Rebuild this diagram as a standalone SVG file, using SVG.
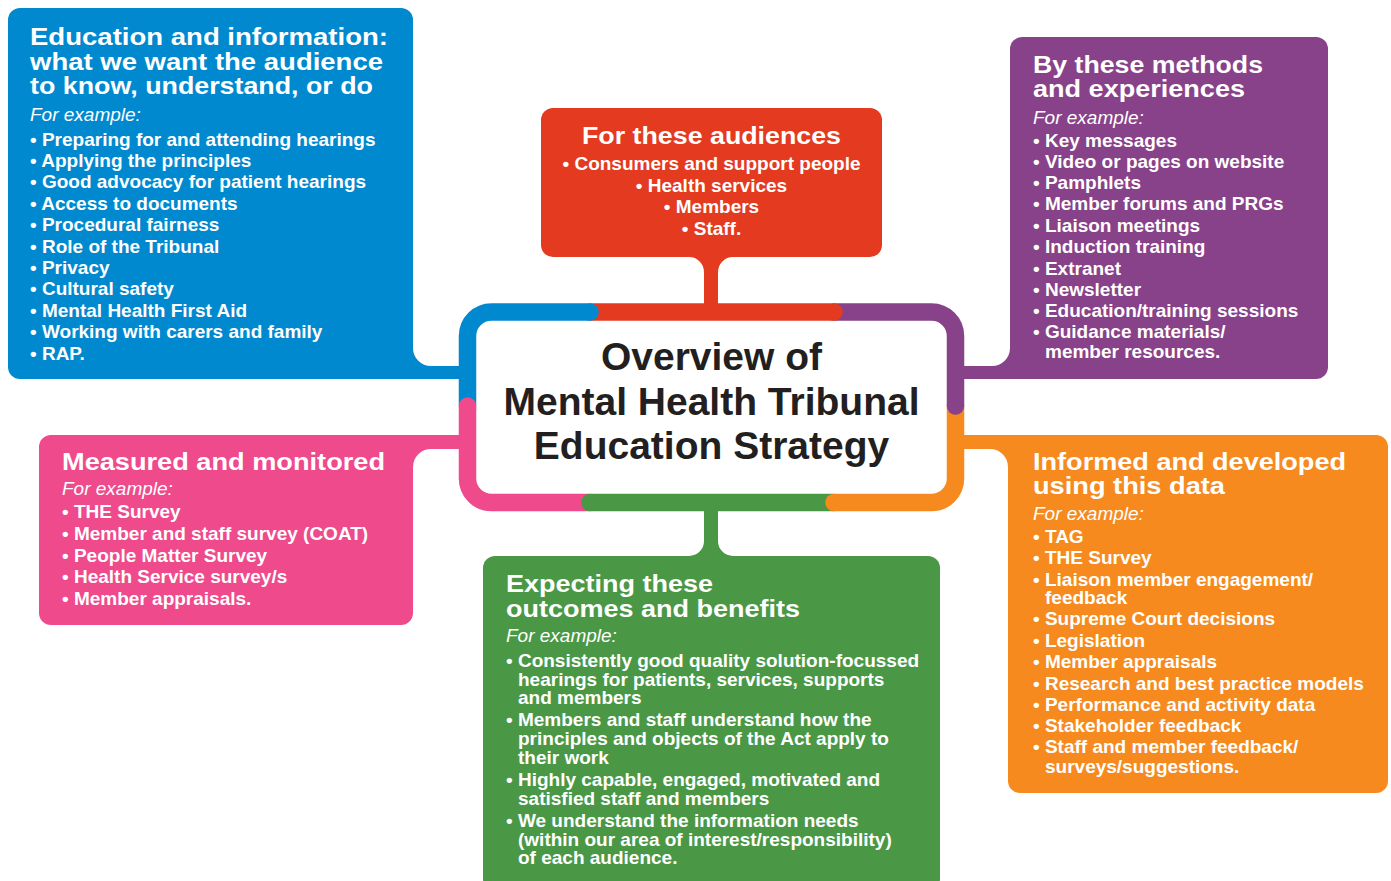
<svg xmlns="http://www.w3.org/2000/svg" width="1391" height="881" viewBox="0 0 1391 881">
  <style>
    text { font-family: "Liberation Sans", Arial, sans-serif; fill: #ffffff; }
    .h { font-size: 24px; font-weight: bold; }
    .fe { font-size: 19px; font-style: italic; font-weight: normal; }
    .b { font-size: 19px; font-weight: bold; }
    .c { text-anchor: middle; }
    .title { font-size: 39px; font-weight: bold; fill: #231f20; text-anchor: middle; }
    .seg { fill: none; stroke-width: 17.5; stroke-linecap: butt; }
    .blue { fill: #0089cf; } .red { fill: #e33a20; } .purple { fill: #884289; }
    .orange { fill: #f68a1f; } .green { fill: #4a9846; } .pink { fill: #ee4a8c; }
  </style>
  <rect width="1391" height="881" fill="#ffffff"/>

  <!-- Education and information -->
  <g id="node-education">
    <rect class="blue" x="8" y="8" width="405" height="371" rx="12"/>
    <text class="h" x="30" y="45" textLength="358" lengthAdjust="spacingAndGlyphs">Education and information:</text>
    <text class="h" x="30" y="69.5" textLength="353" lengthAdjust="spacingAndGlyphs">what we want the audience</text>
    <text class="h" x="30" y="94" textLength="343" lengthAdjust="spacingAndGlyphs">to know, understand, or do</text>
    <text class="fe" x="30" y="121">For example:</text>
    <text class="b" x="30" y="145.5">• Preparing for and attending hearings</text>
    <text class="b" x="30" y="166.9">• Applying the principles</text>
    <text class="b" x="30" y="188.3">• Good advocacy for patient hearings</text>
    <text class="b" x="30" y="209.7">• Access to documents</text>
    <text class="b" x="30" y="231.1">• Procedural fairness</text>
    <text class="b" x="30" y="252.5">• Role of the Tribunal</text>
    <text class="b" x="30" y="273.9">• Privacy</text>
    <text class="b" x="30" y="295.3">• Cultural safety</text>
    <text class="b" x="30" y="316.7">• Mental Health First Aid</text>
    <text class="b" x="30" y="338.1">• Working with carers and family</text>
    <text class="b" x="30" y="359.5">• RAP.</text>
  </g>

  <!-- Audiences -->
  <g id="node-audiences">
    <rect class="red" x="541" y="108" width="341" height="149" rx="12"/>
    <text class="h c" x="711.5" y="143.5" textLength="259" lengthAdjust="spacingAndGlyphs">For these audiences</text>
    <text class="b c" x="711.5" y="169.5">• Consumers and support people</text>
    <text class="b c" x="711.5" y="191.5">• Health services</text>
    <text class="b c" x="711.5" y="213">• Members</text>
    <text class="b c" x="711.5" y="234.5">• Staff.</text>
  </g>

  <!-- Methods and experiences -->
  <g id="node-methods">
    <rect class="purple" x="1010" y="37" width="318" height="342" rx="12"/>
    <text class="h" x="1033" y="72.7" textLength="230" lengthAdjust="spacingAndGlyphs">By these methods</text>
    <text class="h" x="1033" y="97" textLength="212" lengthAdjust="spacingAndGlyphs">and experiences</text>
    <text class="fe" x="1033" y="123.5">For example:</text>
    <text class="b" x="1033" y="146.7">• Key messages</text>
    <text class="b" x="1033" y="168.3">• Video or pages on website</text>
    <text class="b" x="1033" y="189.3">• Pamphlets</text>
    <text class="b" x="1033" y="210">• Member forums and PRGs</text>
    <text class="b" x="1033" y="231.7">• Liaison meetings</text>
    <text class="b" x="1033" y="253.3">• Induction training</text>
    <text class="b" x="1033" y="275">• Extranet</text>
    <text class="b" x="1033" y="295.7">• Newsletter</text>
    <text class="b" x="1033" y="317.3">• Education/training sessions</text>
    <text class="b" x="1033" y="338.3">• Guidance materials/</text>
    <text class="b" x="1045" y="358.3">member resources.</text>
  </g>

  <!-- Measured and monitored -->
  <g id="node-measured">
    <rect class="pink" x="39" y="435" width="374" height="190" rx="12"/>
    <text class="h" x="62" y="469.5" textLength="323" lengthAdjust="spacingAndGlyphs">Measured and monitored</text>
    <text class="fe" x="62" y="495">For example:</text>
    <text class="b" x="62" y="518.3">• THE Survey</text>
    <text class="b" x="62" y="540">• Member and staff survey (COAT)</text>
    <text class="b" x="62" y="561.7">• People Matter Survey</text>
    <text class="b" x="62" y="583.3">• Health Service survey/s</text>
    <text class="b" x="62" y="604.7">• Member appraisals.</text>
  </g>

  <!-- Informed and developed -->
  <g id="node-informed">
    <rect class="orange" x="1008" y="435" width="380" height="358" rx="12"/>
    <text class="h" x="1033" y="469.5" textLength="313" lengthAdjust="spacingAndGlyphs">Informed and developed</text>
    <text class="h" x="1033" y="494" textLength="192" lengthAdjust="spacingAndGlyphs">using this data</text>
    <text class="fe" x="1033" y="520">For example:</text>
    <text class="b" x="1033" y="542.7">• TAG</text>
    <text class="b" x="1033" y="564">• THE Survey</text>
    <text class="b" x="1033" y="585.7">• Liaison member engagement/</text>
    <text class="b" x="1045" y="604.3">feedback</text>
    <text class="b" x="1033" y="625">• Supreme Court decisions</text>
    <text class="b" x="1033" y="647">• Legislation</text>
    <text class="b" x="1033" y="668.3">• Member appraisals</text>
    <text class="b" x="1033" y="689.5">• Research and best practice models</text>
    <text class="b" x="1033" y="711">• Performance and activity data</text>
    <text class="b" x="1033" y="732.3">• Stakeholder feedback</text>
    <text class="b" x="1033" y="753.3">• Staff and member feedback/</text>
    <text class="b" x="1045" y="772.7">surveys/suggestions.</text>
  </g>

  <!-- Outcomes and benefits -->
  <g id="node-outcomes">
    <rect class="green" x="483" y="556" width="457" height="335" rx="12"/>
    <text class="h" x="506" y="591.7" textLength="207" lengthAdjust="spacingAndGlyphs">Expecting these</text>
    <text class="h" x="506" y="616.7" textLength="294" lengthAdjust="spacingAndGlyphs">outcomes and benefits</text>
    <text class="fe" x="506" y="641.7">For example:</text>
    <text class="b" x="506" y="666.7">• Consistently good quality solution-focussed</text>
    <text class="b" x="518" y="685.5">hearings for patients, services, supports</text>
    <text class="b" x="518" y="704.3">and members</text>
    <text class="b" x="506" y="725.7">• Members and staff understand how the</text>
    <text class="b" x="518" y="745">principles and objects of the Act apply to</text>
    <text class="b" x="518" y="764.3">their work</text>
    <text class="b" x="506" y="786">• Highly capable, engaged, motivated and</text>
    <text class="b" x="518" y="805">satisfied staff and members</text>
    <text class="b" x="506" y="826.7">• We understand the information needs</text>
    <text class="b" x="518" y="845.5">(within our area of interest/responsibility)</text>
    <text class="b" x="518" y="863.8">of each audience.</text>
  </g>

  <!-- Filleted bars linking each box to the central frame -->
  <g id="connectors">
    <path class="blue" d="M413 348 A18 18 0 0 0 431 366 H468 V379 H400 V366 H413 Z"/>
    <path class="purple" d="M1010 348 A18 18 0 0 1 992 366 H955 V379 H1023 V366 H1010 Z"/>
    <path class="pink" d="M400 435 H468 V449 H431 A18 18 0 0 0 413 467 V449 H400 Z"/>
    <path class="orange" d="M1021 435 H955 V449 H990 A18 18 0 0 1 1008 467 V449 H1021 Z"/>
    <path class="red" d="M689 257 A15 15 0 0 1 704 272 V312 H718 V272 A15 15 0 0 1 733 257 Z"/>
    <path class="green" d="M704 503 V541 A15 15 0 0 1 689 556 H733 A15 15 0 0 1 718 541 V503 Z"/>
  </g>

  <!-- Central title with its six-colour frame -->
  <g id="node-overview">
    <rect x="467.5" y="312" width="488" height="190.5" rx="24" fill="#ffffff"/>
    <path class="seg" stroke="#0089cf" d="M467.5 406 V336 A24 24 0 0 1 491.5 312 H590"/>
    <path class="seg" stroke="#e33a20" d="M590 312 H834"/>
    <path class="seg" stroke="#884289" d="M834 312 H931.5 A24 24 0 0 1 955.5 336 V406"/>
    <path class="seg" stroke="#f68a1f" d="M955.5 406 V478.5 A24 24 0 0 1 931.5 502.5 H834"/>
    <path class="seg" stroke="#4a9846" d="M834 502.5 H590"/>
    <path class="seg" stroke="#ee4a8c" d="M590 502.5 H491.5 A24 24 0 0 1 467.5 478.5 V406"/>
    <circle class="blue" cx="590" cy="312" r="8.75"/>
    <circle class="red" cx="834" cy="312" r="8.75"/>
    <circle class="purple" cx="955.5" cy="406" r="8.75"/>
    <circle class="orange" cx="834" cy="502.5" r="8.75"/>
    <circle class="green" cx="590" cy="502.5" r="8.75"/>
    <circle class="pink" cx="467.5" cy="406" r="8.75"/>
    <text class="title" x="711.5" y="370">Overview of</text>
    <text class="title" x="711.5" y="415">Mental Health Tribunal</text>
    <text class="title" x="711.5" y="459">Education Strategy</text>
  </g>
</svg>
